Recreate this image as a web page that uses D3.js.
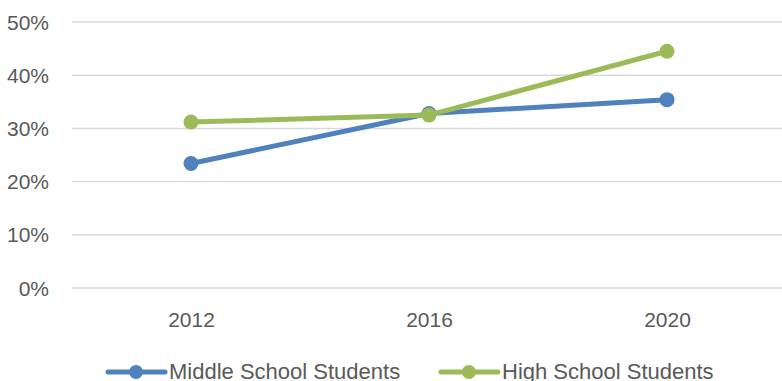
<!DOCTYPE html>
<html>
<head>
<meta charset="utf-8">
<script src="https://cdn.jsdelivr.net/npm/d3@7"></script>
<style>
  html, body { margin: 0; padding: 0; background: #fff; }
  svg { display: block; font-family: "Liberation Sans", Arial, sans-serif; }
</style>
</head>
<body>
<svg id="chart" width="782" height="381"></svg>
<script>
// Survey years on the category axis
const years = ["2012", "2016", "2020"];
// Share of students (fraction) per year
const middleSchool = [0.234, 0.328, 0.354];
const highSchool = [0.312, 0.325, 0.445];
// Value axis ticks
const yTicks = [0, 0.1, 0.2, 0.3, 0.4, 0.5];
const seriesNames = ["Middle School Students", "High School Students"];

const colors = ["#4f81bd", "#9bbb59"];
const textColor = "#595959";

const svg = d3.select("#chart");

const x = d3.scalePoint().domain(years).range([72, 786]).padding(0.5);
const y = d3.scaleLinear().domain([0, 0.5]).range([288, 22]);

// Horizontal gridlines
svg.append("g")
  .selectAll("line")
  .data(yTicks)
  .join("line")
  .attr("x1", 72)
  .attr("x2", 782)
  .attr("y1", d => y(d))
  .attr("y2", d => y(d))
  .attr("stroke", "#d9d9d9")
  .attr("stroke-width", 1.5);

// Y axis labels
const yAxis = d3.axisLeft(y).tickValues(yTicks).tickFormat(d3.format(".0%")).tickSize(0).tickPadding(0);
const yg = svg.append("g").attr("transform", "translate(49,0)").call(yAxis);
yg.select(".domain").remove();
yg.selectAll("text")
  .attr("fill", textColor)
  .attr("font-size", 21)
  .attr("font-family", "Liberation Sans, Arial, sans-serif")
  .attr("dy", "0.34em");

// X axis labels
const xAxis = d3.axisBottom(x).tickSize(0).tickPadding(0);
const xg = svg.append("g").attr("transform", "translate(0,327)").call(xAxis);
xg.select(".domain").remove();
xg.selectAll("text")
  .attr("fill", textColor)
  .attr("font-size", 21)
  .attr("font-family", "Liberation Sans, Arial, sans-serif")
  .attr("dy", 0);

const series = [middleSchool, highSchool];
const line = d3.line().x((d, i) => x(years[i])).y(d => y(d));

series.forEach((vals, s) => {
  const g = svg.append("g");
  g.append("path")
    .datum(vals)
    .attr("d", line)
    .attr("fill", "none")
    .attr("stroke", colors[s])
    .attr("stroke-width", 5)
    .attr("stroke-linejoin", "round");
  g.selectAll("circle")
    .data(vals)
    .join("circle")
    .attr("cx", (d, i) => x(years[i]))
    .attr("cy", d => y(d))
    .attr("r", 7.5)
    .attr("fill", colors[s]);
});

// Legend
const legendItems = [
  { x0: 108, label: seriesNames[0], color: colors[0] },
  { x0: 441, label: seriesNames[1], color: colors[1] }
];
const lg = svg.append("g");
legendItems.forEach(item => {
  lg.append("line")
    .attr("x1", item.x0).attr("x2", item.x0 + 57)
    .attr("y1", 372).attr("y2", 372)
    .attr("stroke", item.color).attr("stroke-width", 5)
    .attr("stroke-linecap", "round");
  lg.append("circle")
    .attr("cx", item.x0 + 28).attr("cy", 372).attr("r", 7)
    .attr("fill", item.color);
  lg.append("text")
    .attr("x", item.x0 + 61).attr("y", 379)
    .attr("fill", textColor)
    .attr("font-size", 22)
    .text(item.label);
});
</script>
</body>
</html>
